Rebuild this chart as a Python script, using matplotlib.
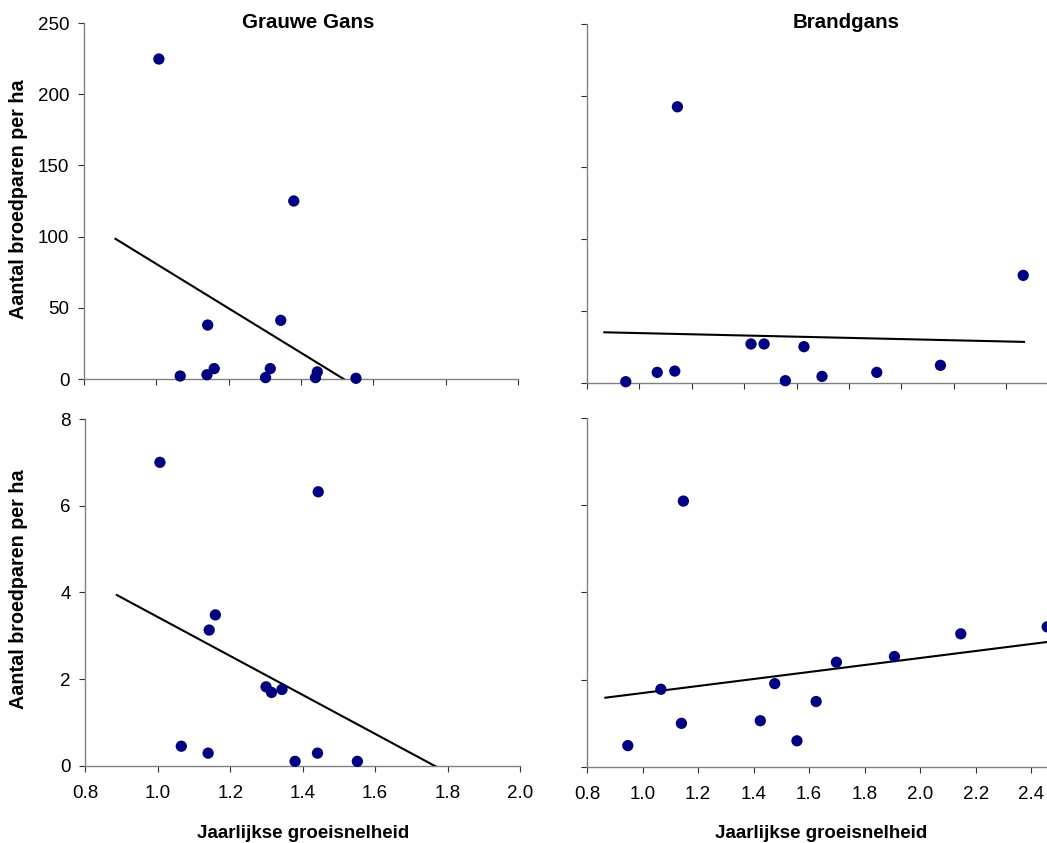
import numpy as np
import matplotlib
matplotlib.use("Agg")
import matplotlib.pyplot as plt

plt.rcParams['font.family'] = ['Liberation Sans', 'DejaVu Sans']

# --- Data: growth rate vs breeding pairs per ha ---
# Grauwe Gans
gg_x = [1.007, 1.066, 1.142, 1.140, 1.160, 1.380, 1.344, 1.315, 1.302, 1.445, 1.440, 1.552]
gg_top_y = [224.7, 2.1, 37.9, 3.0, 7.3, 125.0, 41.2, 7.3, 1.0, 5.0, 1.0, 0.5]
gg_bot_x = [1.006, 1.443, 1.159, 1.142, 1.299, 1.314, 1.343, 1.065, 1.139, 1.379, 1.441, 1.551]
gg_bot_y = [7.0, 6.32, 3.48, 3.13, 1.82, 1.69, 1.76, 0.45, 0.29, 0.10, 0.29, 0.10]

# Brandgans
bg_x = [0.948, 1.068, 1.135, 1.145, 1.426, 1.476, 1.557, 1.628, 1.697, 1.906, 2.149, 2.465]
bg_top_y = [0.7, 7.2, 8.1, 192.3, 27.0, 27.0, 1.4, 25.1, 4.4, 7.2, 12.1, 74.8]
bg_bot_x = [0.947, 1.066, 1.140, 1.147, 1.424, 1.476, 1.556, 1.625, 1.698, 1.907, 2.146, 2.457]
bg_bot_y = [0.49, 1.78, 1.00, 6.09, 1.06, 1.91, 0.60, 1.50, 2.40, 2.53, 3.05, 3.21]

# trendline x-spans (fitted by least squares)
left_span = [0.887, 2.0]
right_span = [0.866, 2.468]

titles = ["Grauwe Gans", "Brandgans"]
ylabel = "Aantal broedparen per ha"
xlabel = "Jaarlijkse groeisnelheid"

W, H = 1047, 843
fig = plt.figure(figsize=(W / 100, H / 100), dpi=100)


def box(left, right, top, bottom):
    return [left / W, 1 - bottom / H, (right - left) / W, (bottom - top) / H]


ax_tl = fig.add_axes(box(84, 518, 23, 379))
ax_bl = fig.add_axes(box(85.3, 520, 419, 765.7))
ax_tr = fig.add_axes(box(587, 1058.6, 24, 382.7))
ax_br = fig.add_axes(box(587, 1086.9, 417.7, 767))

panels = [
    (ax_tl, gg_x, gg_top_y, left_span, (0.8, 2.0), (0, 250), 50),
    (ax_bl, gg_bot_x, gg_bot_y, left_span, (0.8, 2.0), (0, 8), 2),
    (ax_tr, bg_x, bg_top_y, right_span, (0.8, 2.6), (0, 250), 50),
    (ax_br, bg_bot_x, bg_bot_y, right_span, (0.8, 2.6), (0, 8), 2),
]

for ax, xs, ys, span, xlim, ylim, ystep in panels:
    xs = np.array(xs)
    ys = np.array(ys)
    slope, icpt = np.polyfit(xs, ys, 1)
    tx = np.array(span)
    ax.plot(tx, slope * tx + icpt, color='black', lw=1.5, zorder=3)
    ax.scatter(xs, ys, s=66, color='#000080', edgecolors='none', zorder=4, clip_on=False)

    ax.set_xlim(*xlim)
    ax.set_ylim(*ylim)
    ax.set_xticks(np.arange(0.8, xlim[1] + 0.001, 0.2))
    ax.set_yticks(np.arange(ylim[0], ylim[1] + 0.001, ystep))
    for s in ['top', 'right']:
        ax.spines[s].set_visible(False)
    for s in ['left', 'bottom']:
        ax.spines[s].set_color('#808080')
        ax.spines[s].set_linewidth(1.0)
    ax.tick_params(direction='out', length=4.5, width=0.8, color='#303030',
                   labelsize=13.5, labelcolor='black')
    ax.tick_params(axis='x', pad=9.5)
    ax.tick_params(axis='y', pad=6)

ax_bl.set_xticklabels([f"{v:.1f}" for v in np.arange(0.8, 2.001, 0.2)])
ax_br.set_xticklabels([f"{v:.1f}" for v in np.arange(0.8, 2.601, 0.2)])
ax_tl.tick_params(labelbottom=False)
ax_tr.tick_params(labelbottom=False, labelleft=False)
ax_br.tick_params(labelleft=False)

# panel titles
fig.text(308 / W, 1 - 23 / H, titles[0], ha='center', va='center',
         fontsize=14.8, fontweight='bold')
fig.text(846 / W, 1 - 23 / H, titles[1], ha='center', va='center',
         fontsize=14.8, fontweight='bold')

# axis titles
fig.text(19 / W, 1 - 199 / H, ylabel, rotation=90, ha='center', va='center',
         fontsize=14.2, fontweight='bold')
fig.text(19 / W, 1 - 589 / H, ylabel, rotation=90, ha='center', va='center',
         fontsize=14.2, fontweight='bold')
fig.text(303 / W, 5 / H, xlabel, ha='center', va='baseline',
         fontsize=13.5, fontweight='bold')
fig.text(821 / W, 5 / H, xlabel, ha='center', va='baseline',
         fontsize=13.5, fontweight='bold')

fig.savefig("out.png", dpi=100)
